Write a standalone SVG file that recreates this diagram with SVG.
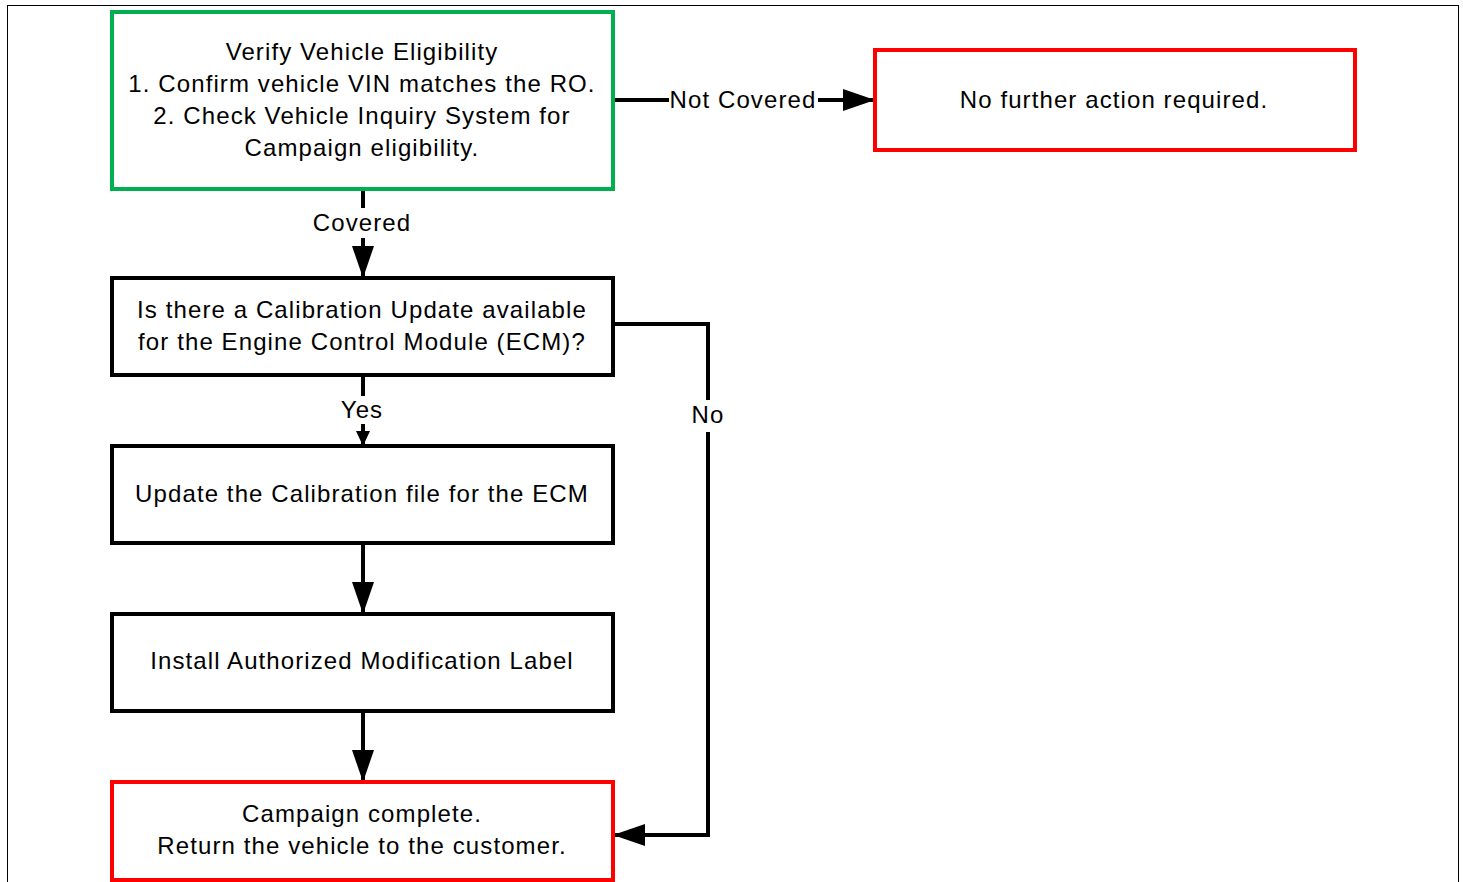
<svg xmlns="http://www.w3.org/2000/svg" width="1463" height="882" viewBox="0 0 1463 882">
<defs>
<style>
text{font-family:"Liberation Sans",Arial,sans-serif;font-size:24px;fill:#000;text-anchor:middle;letter-spacing:1.1px}
.box{fill:#fff;stroke-width:4}
.k{stroke:#000}
.g{stroke:#00B050}
.r{stroke:#FF0000}
.ln{fill:none;stroke:#000;stroke-width:4}
.lbl{fill:#fff;stroke:none}
</style>
<marker id="ah" markerUnits="userSpaceOnUse" markerWidth="32" markerHeight="22" refX="32" refY="11" orient="auto" viewBox="0 0 32 22">
<path d="M0,0 L32,11 L0,22 Z" fill="#000"/>
</marker>
<marker id="ahs" markerUnits="userSpaceOnUse" markerWidth="15" markerHeight="14" refX="15" refY="7" orient="auto" viewBox="0 0 15 14">
<path d="M0,0 L15,7 L0,14 Z" fill="#000"/>
</marker>
</defs>
<rect x="0" y="0" width="1463" height="882" fill="#fff"/>
<rect x="7.5" y="5.5" width="1451" height="900" fill="none" stroke="#000" stroke-width="1"/>
<g id="connectors">
<path class="ln" d="M613,100 H875" marker-end="url(#ah)"/>
<path class="ln" d="M363,189 V278" marker-end="url(#ah)"/>
<path class="ln" d="M363,375 V446" marker-end="url(#ahs)"/>
<path class="ln" d="M363,543 V614" marker-end="url(#ah)"/>
<path class="ln" d="M363,711 V782" marker-end="url(#ah)"/>
<path class="ln" d="M613,324 H708 V835 H613" marker-end="url(#ah)"/>
<rect class="lbl" x="669" y="86" width="149" height="28"/>
<text x="743" y="108">Not Covered</text>
<rect class="lbl" x="308" y="208" width="110" height="30"/>
<text x="362" y="231">Covered</text>
<rect class="lbl" x="336" y="396" width="52" height="28"/>
<text x="362" y="418">Yes</text>
<rect class="lbl" x="688" y="400" width="40" height="32"/>
<text x="708" y="423">No</text>
</g>
<g id="n1">
<rect class="box g" x="112" y="12" width="501" height="177"/>
<text x="362" y="60">Verify Vehicle Eligibility</text>
<text x="362" y="92">1. Confirm vehicle VIN matches the RO.</text>
<text x="362" y="124">2. Check Vehicle Inquiry System for</text>
<text x="362" y="156">Campaign eligibility.</text>
</g>
<g id="n2">
<rect class="box r" x="875" y="50" width="480" height="100"/>
<text x="1114" y="108">No further action required.</text>
</g>
<g id="n3">
<rect class="box k" x="112" y="278" width="501" height="97"/>
<text x="362" y="318">Is there a Calibration Update available</text>
<text x="362" y="350">for the Engine Control Module (ECM)?</text>
</g>
<g id="n4">
<rect class="box k" x="112" y="446" width="501" height="97"/>
<text x="362" y="502">Update the Calibration file for the ECM</text>
</g>
<g id="n5">
<rect class="box k" x="112" y="614" width="501" height="97"/>
<text x="362" y="669">Install Authorized Modification Label</text>
</g>
<g id="n6">
<rect class="box r" x="112" y="782" width="501" height="98"/>
<text x="362" y="822">Campaign complete.</text>
<text x="362" y="854">Return the vehicle to the customer.</text>
</g>
</svg>
